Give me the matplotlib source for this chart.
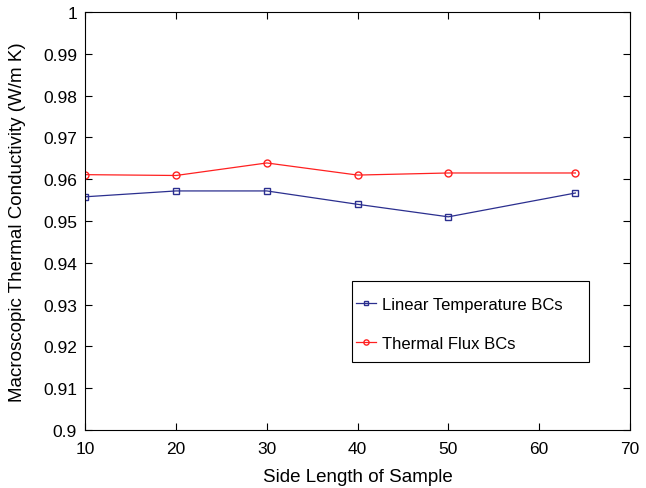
import matplotlib
matplotlib.use("Agg")
import matplotlib.pyplot as plt
from matplotlib.patches import Rectangle

plt.rcParams['font.family'] = ['Liberation Sans', 'DejaVu Sans']

lado = [10, 20, 30, 40, 50, 64]
linear_temp = [0.9558, 0.9572, 0.9572, 0.9540, 0.9510, 0.9567]
fluxo_termico = [0.9611, 0.9609, 0.9639, 0.9610, 0.9615, 0.9615]
y_ticks = [0.9, 0.91, 0.92, 0.93, 0.94, 0.95, 0.96, 0.97, 0.98, 0.99, 1]
y_labels = ["0.9", "0.91", "0.92", "0.93", "0.94", "0.95", "0.96", "0.97", "0.98", "0.99", "1"]
x_ticks = [10, 20, 30, 40, 50, 60, 70]

fig = plt.figure(figsize=(6.46, 4.89), dpi=100)
ax = fig.add_axes([0.132, 0.119, 0.843, 0.854])

ax.plot(lado, linear_temp, color="#2b2f8f", marker="s", markersize=4,
        markerfacecolor="none", linewidth=0.9, label="Linear Temperature BCs")
ax.plot(lado, fluxo_termico, color="#ff2020", marker="o", markersize=5,
        markerfacecolor="none", linewidth=0.9, label="Thermal Flux BCs")

ax.set_xlim(10, 70)
ax.set_ylim(0.9, 1.0)
ax.set_xticks(x_ticks)
ax.set_yticks(y_ticks)
ax.set_yticklabels(y_labels)
ax.tick_params(direction="in", top=True, right=True, labelsize=12.5, length=5)
ax.tick_params(axis="x", pad=8)
ax.tick_params(axis="y", pad=6)
for s in ax.spines.values():
    s.set_linewidth(0.8)

ax.set_xlabel("Side Length of Sample", fontsize=13.5, labelpad=9)
ax.set_ylabel("Macroscopic Thermal Conductivity (W/m K)", fontsize=13.5, labelpad=12)

# caixa da legenda estilo MATLAB
caixa = Rectangle((0.490, 0.162), 0.435, 0.194, transform=ax.transAxes,
                  facecolor="white", edgecolor="black", linewidth=0.8, zorder=4)
ax.add_patch(caixa)
leg = ax.legend(loc="upper left", bbox_to_anchor=(0.497, 0.319), fontsize=12,
                frameon=False, handlelength=1.2, labelspacing=1.48, borderpad=0,
                handletextpad=0.35, borderaxespad=0, markerscale=0.75)
leg.set_zorder(5)

fig.savefig("out.png", dpi=100)
